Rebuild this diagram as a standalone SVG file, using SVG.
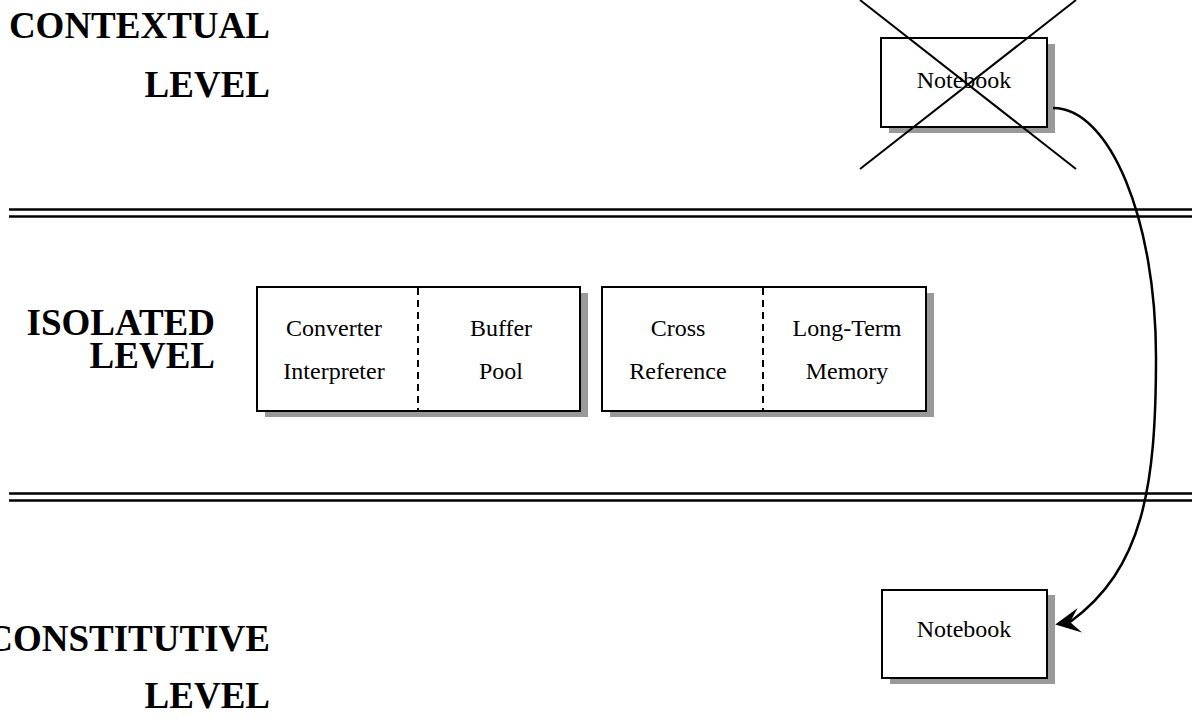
<svg xmlns="http://www.w3.org/2000/svg" width="1192" height="719" viewBox="0 0 1192 719">
  <style>
    .label { font-family: "Liberation Serif", "Times New Roman", serif; font-weight: bold; font-size: 37px; fill: #000; text-anchor: end; }
    .txt { font-family: "Liberation Serif", "Times New Roman", serif; font-size: 24px; fill: #000; text-anchor: middle; }
    .box { fill: #fff; stroke: #000; stroke-width: 2; }
    .shadow { fill: #999; stroke: none; }
    .divider { stroke: #000; stroke-width: 2; stroke-dasharray: 7 5; }
    .rule { stroke: #000; stroke-width: 2.5; }
    .cross { stroke: #000; stroke-width: 2; }
    .flow { fill: none; stroke: #000; stroke-width: 2.5; }
  </style>
  <defs>
    <marker id="arrow" markerUnits="userSpaceOnUse" viewBox="-28 -14 30 28" markerWidth="30" markerHeight="28" refX="-15" refY="0" orient="170">
      <path d="M0,0 L-25,-12.5 L-15,0 L-25,12.5 Z" fill="#000"/>
    </marker>
  </defs>
  <rect width="1192" height="719" fill="#fff"/>

  <!-- level names -->
  <g id="levels">
    <text class="label" x="270" y="38">CONTEXTUAL</text>
    <text class="label" x="270" y="97">LEVEL</text>
    <text class="label" x="215" y="335">ISOLATED</text>
    <text class="label" x="215" y="368">LEVEL</text>
    <text class="label" x="270" y="651">CONSTITUTIVE</text>
    <text class="label" x="270" y="708">LEVEL</text>
  </g>

  <!-- double rules separating the levels -->
  <g id="rules">
    <line class="rule" x1="9" y1="209.5" x2="1192" y2="209.5"/>
    <line class="rule" x1="9" y1="216.5" x2="1192" y2="216.5"/>
    <line class="rule" x1="9" y1="493.5" x2="1192" y2="493.5"/>
    <line class="rule" x1="9" y1="500.5" x2="1192" y2="500.5"/>
  </g>

  <!-- crossed-out notebook -->
  <g id="notebook-top">
    <rect class="shadow" x="889" y="44" width="166" height="89"/>
    <rect class="box" x="881" y="38" width="166" height="89"/>
    <text class="txt" x="964" y="88">Notebook</text>
    <line class="cross" x1="860" y1="0" x2="1076" y2="169"/>
    <line class="cross" x1="1076" y1="0" x2="860" y2="169"/>
  </g>

  <!-- converter / buffer box -->
  <g id="converter-buffer">
    <rect class="shadow" x="265" y="293" width="323" height="124"/>
    <rect class="box" x="257" y="287" width="323" height="124"/>
    <line class="divider" x1="418" y1="288" x2="418" y2="410"/>
    <text class="txt" x="334" y="336">Converter</text>
    <text class="txt" x="334" y="379">Interpreter</text>
    <text class="txt" x="501" y="336">Buffer</text>
    <text class="txt" x="501" y="379">Pool</text>
  </g>

  <!-- cross reference / long-term memory box -->
  <g id="reference-memory">
    <rect class="shadow" x="610" y="293" width="324" height="124"/>
    <rect class="box" x="602" y="287" width="324" height="124"/>
    <line class="divider" x1="763" y1="288" x2="763" y2="410"/>
    <text class="txt" x="678" y="336">Cross</text>
    <text class="txt" x="678" y="379">Reference</text>
    <text class="txt" x="847" y="336">Long-Term</text>
    <text class="txt" x="847" y="379">Memory</text>
  </g>

  <!-- notebook on the constitutive level -->
  <g id="notebook-bottom">
    <rect class="shadow" x="890" y="595" width="165" height="89"/>
    <rect class="box" x="882" y="590" width="165" height="88"/>
    <text class="txt" x="964" y="637">Notebook</text>
  </g>

  <!-- connectors -->
  <g id="connectors">
    <path class="flow" d="M1053,108 C1110,108 1156,219.5 1156,357 C1156,487 1143,569 1070,622" marker-end="url(#arrow)"/>
  </g>
</svg>
